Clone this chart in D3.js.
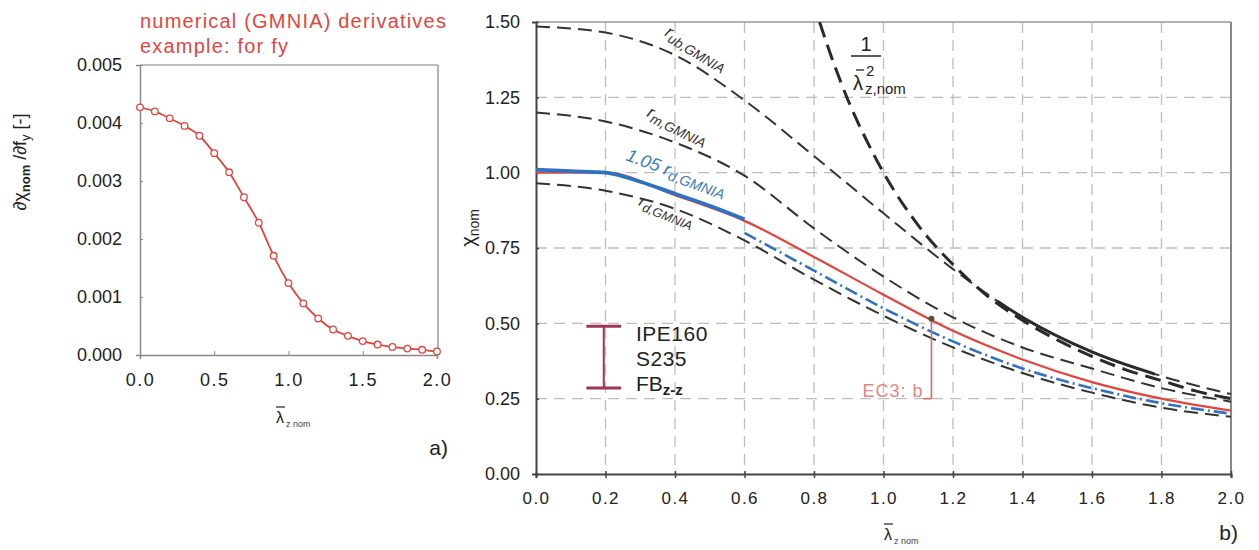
<!DOCTYPE html>
<html>
<head>
<meta charset="utf-8">
<script src="https://cdn.jsdelivr.net/npm/d3@7"></script>
<style>
  body { margin: 0; background: #fff; }
  text { font-family: "Liberation Sans", Arial, sans-serif; }
</style>
</head>
<body>
<svg id="chart" width="1259" height="550"></svg>
<script>
// ---- data ----
var lamLeft = [0, 0.1, 0.2, 0.3, 0.4, 0.5, 0.6, 0.7, 0.8, 0.9, 1.0, 1.1, 1.2, 1.3, 1.4, 1.5, 1.6, 1.7, 1.8, 1.9, 2.0];
var dChiDfy = [0.00427, 0.0042, 0.00408, 0.00395, 0.00378, 0.00348, 0.00315, 0.00272, 0.00228, 0.00171, 0.00124,
               0.00089, 0.00063, 0.00044, 0.00033, 0.00024, 0.00018, 0.00014, 0.00011, 0.00009, 0.00006];

var lam = [0, 0.2, 0.4, 0.6, 0.8, 1.0, 1.2, 1.4, 1.6, 1.8, 2.0];
var rUb = [1.485, 1.465, 1.39, 1.24, 1.055, 0.865, 0.68, 0.52, 0.405, 0.325, 0.265];
var rM  = [1.20, 1.17, 1.10, 0.99, 0.815, 0.655, 0.52, 0.42, 0.35, 0.285, 0.24];
var rD  = [0.965, 0.94, 0.88, 0.775, 0.645, 0.525, 0.42, 0.335, 0.27, 0.22, 0.19];
var ec3b = [1.0, 1.0, 0.925, 0.84, 0.72, 0.595, 0.475, 0.38, 0.305, 0.25, 0.21];

var lamBlue = [0, 0.1, 0.2, 0.3, 0.4, 0.5, 0.6];
var blueSolid = [1.01, 1.005, 1.0, 0.97, 0.93, 0.89, 0.845];
var lamBlueDD = [0.6, 0.8, 1.0, 1.2, 1.4, 1.6, 1.8, 2.0];
var blueDD = [0.80, 0.675, 0.55, 0.44, 0.35, 0.285, 0.235, 0.20];

var lamEuler = [0.816, 0.85, 0.9, 0.95, 1.0, 1.1, 1.2, 1.3, 1.4, 1.5, 1.6, 1.7, 1.8, 1.9, 2.0];
var euler = [1.50, 1.385, 1.235, 1.11, 1.0, 0.825, 0.695, 0.59, 0.51, 0.445, 0.39, 0.345, 0.31, 0.275, 0.25];

var ec3Point = { lam: 1.138, chi: 0.515 };

var xTicksLeft = [0, 0.5, 1.0, 1.5, 2.0];
var yTicksLeft = [0, 0.001, 0.002, 0.003, 0.004, 0.005];
var xTicksRight = [0, 0.2, 0.4, 0.6, 0.8, 1.0, 1.2, 1.4, 1.6, 1.8, 2.0];
var yTicksRight = [0, 0.25, 0.5, 0.75, 1.0, 1.25, 1.5];

var svg = d3.select('#chart');
var RED = '#e2453f', BLUE = '#2f72c4', DARK = '#333';

function pts(xs, ys) { return xs.map(function(x, i) { return [x, ys[i]]; }); }

// ================= left panel =================
var xL = d3.scaleLinear().domain([0, 2]).range([140, 437]);
var yL = d3.scaleLinear().domain([0, 0.005]).range([355, 65]);

var left = svg.append('g');

// frame
left.append('line').attr('x1', 140).attr('x2', 438).attr('y1', 65).attr('y2', 65).attr('stroke', '#aaa').attr('stroke-width', 1.5);
left.append('line').attr('x1', 438).attr('x2', 438).attr('y1', 65).attr('y2', 355).attr('stroke', '#999').attr('stroke-width', 1.5);

left.append('g').attr('transform', 'translate(0,355)')
  .call(d3.axisBottom(xL).tickValues(xTicksLeft).tickFormat(d3.format('.1f')).tickSize(4).tickPadding(14))
  .call(function(g) {
    g.select('.domain').attr('stroke', '#888').attr('stroke-width', 1.5);
    g.selectAll('.tick line').attr('stroke', '#888').attr('y2', -4);
    g.selectAll('.tick text').attr('font-size', 18).attr('fill', '#222').attr('letter-spacing', 1.5);
  });

left.append('g').attr('transform', 'translate(140,0)')
  .call(d3.axisLeft(yL).tickValues(yTicksLeft).tickFormat(d3.format('.3f')).tickSize(4).tickPadding(14))
  .call(function(g) {
    g.select('.domain').attr('stroke', '#888').attr('stroke-width', 1.5);
    g.selectAll('.tick line').attr('stroke', '#888').attr('x2', 3);
    g.selectAll('.tick text').attr('font-size', 18).attr('fill', '#222');
  });

var leftLine = d3.line().x(function(d) { return xL(d[0]); }).y(function(d) { return yL(d[1]); }).curve(d3.curveMonotoneX);
left.append('path').datum(pts(lamLeft, dChiDfy))
  .attr('d', leftLine).attr('fill', 'none').attr('stroke', RED).attr('stroke-width', 1.8);
left.selectAll('circle.mk').data(pts(lamLeft, dChiDfy)).enter().append('circle')
  .attr('class', 'mk')
  .attr('cx', function(d) { return xL(d[0]); })
  .attr('cy', function(d) { return yL(d[1]); })
  .attr('r', 3.3).attr('fill', '#fff').attr('stroke', RED).attr('stroke-width', 1.3);

// titles
left.append('text').attr('x', 140).attr('y', 28).attr('font-size', 20).attr('letter-spacing', 1.2).attr('fill', RED).text('numerical (GMNIA) derivatives');
left.append('text').attr('x', 140).attr('y', 53).attr('font-size', 20).attr('letter-spacing', 1.2).attr('fill', RED).text('example: for fy');

// y label
var yl = left.append('text').attr('transform', 'translate(26,162) rotate(-90)').attr('text-anchor', 'middle')
  .attr('font-size', 18).attr('fill', '#222');
yl.append('tspan').text('\u2202\u03c7');
yl.append('tspan').attr('font-size', 13).attr('dy', 4).attr('font-weight', 'bold').text('nom');
yl.append('tspan').attr('dy', -4).text(' /\u2202f');
yl.append('tspan').attr('font-size', 13).attr('dy', 4).text('y');
yl.append('tspan').attr('dy', -4).text(' [-]');

// x label
left.append('text').attr('x', 276).attr('y', 423).attr('font-size', 16).attr('fill', '#222').text('\u03bb');
left.append('line').attr('x1', 276).attr('x2', 285).attr('y1', 407).attr('y2', 407).attr('stroke', '#222').attr('stroke-width', 1.2);
left.append('text').attr('x', 286).attr('y', 427).attr('font-size', 9).attr('fill', '#444').text('z nom');

left.append('text').attr('x', 448).attr('y', 455).attr('text-anchor', 'end').attr('font-size', 21).attr('fill', '#222').text('a)');

// ================= right panel =================
var xR = d3.scaleLinear().domain([0, 2]).range([536, 1231]);
var yR = d3.scaleLinear().domain([0, 1.5]).range([474, 22]);

var right = svg.append('g');

// grid
right.selectAll('line.vg').data(xTicksRight.slice(1, -1)).enter().append('line')
  .attr('x1', function(d) { return xR(d); }).attr('x2', function(d) { return xR(d); })
  .attr('y1', yR(1.5)).attr('y2', yR(0))
  .attr('stroke', '#bdbdbd').attr('stroke-width', 1.3).attr('stroke-dasharray', '11,7');
right.selectAll('line.hg').data(yTicksRight.slice(1, -1)).enter().append('line')
  .attr('x1', xR(0)).attr('x2', xR(2))
  .attr('y1', function(d) { return yR(d); }).attr('y2', function(d) { return yR(d); })
  .attr('stroke', '#bdbdbd').attr('stroke-width', 1.3).attr('stroke-dasharray', '11,7');

// frame
right.append('line').attr('x1', xR(0)).attr('x2', xR(2)).attr('y1', yR(1.5)).attr('y2', yR(1.5)).attr('stroke', '#999').attr('stroke-width', 1.5);
right.append('line').attr('x1', xR(2)).attr('x2', xR(2)).attr('y1', yR(1.5)).attr('y2', yR(0)).attr('stroke', '#888').attr('stroke-width', 2);

right.append('g').attr('transform', 'translate(0,' + yR(0) + ')')
  .call(d3.axisBottom(xR).tickValues(xTicksRight).tickFormat(d3.format('.1f')).tickSize(4).tickPadding(14))
  .call(function(g) {
    g.select('.domain').attr('stroke', '#444').attr('stroke-width', 2);
    g.selectAll('.tick line').attr('stroke', '#444').attr('y1', -3).attr('stroke-width', 1.5);
    g.selectAll('.tick text').attr('font-size', 17).attr('fill', '#222').attr('letter-spacing', 1.5);
  });

right.append('g').attr('transform', 'translate(' + xR(0) + ',0)')
  .call(d3.axisLeft(yR).tickValues(yTicksRight).tickFormat(d3.format('.2f')).tickSize(4).tickPadding(12))
  .call(function(g) {
    g.select('.domain').attr('stroke', '#444').attr('stroke-width', 2);
    g.selectAll('.tick line').attr('stroke', '#444').attr('x2', 3).attr('stroke-width', 1.5);
    g.selectAll('.tick text').attr('font-size', 18).attr('fill', '#222');
  });

var line = d3.line().x(function(d) { return xR(d[0]); }).y(function(d) { return yR(d[1]); }).curve(d3.curveMonotoneX);

right.append('clipPath').attr('id', 'plotclip').append('rect')
  .attr('x', xR(0)).attr('y', yR(1.5)).attr('width', xR(2) - xR(0)).attr('height', yR(0) - yR(1.5));
right.append('clipPath').attr('id', 'solidclip').append('rect')
  .attr('x', xR(1.33)).attr('y', yR(1.5)).attr('width', xR(1.78) - xR(1.33)).attr('height', yR(0) - yR(1.5));

var curves = right.append('g').attr('clip-path', 'url(#plotclip)');

function draw(xs, ys, stroke, width, dash) {
  return curves.append('path').datum(pts(xs, ys)).attr('d', line)
    .attr('fill', 'none').attr('stroke', stroke).attr('stroke-width', width)
    .attr('stroke-dasharray', dash || null);
}

draw(lam, rD, DARK, 2, '14,7');
draw(lamBlueDD, blueDD, BLUE, 2.6, '13,4,2,4');
draw(lam, ec3b, RED, 2.2);
draw(lamBlue, blueSolid, BLUE, 3.8);
draw(lam, rM, DARK, 2, '14,7');
draw(lam, rUb, DARK, 2, '14,7');
curves.append('path').datum(pts(lam, rUb)).attr('d', line).attr('clip-path', 'url(#solidclip)')
  .attr('fill', 'none').attr('stroke', '#2a2a2a').attr('stroke-width', 3);
draw(lamEuler, euler, '#2a2a2a', 3, '16,8');

// EC3 b marker
right.append('line')
  .attr('x1', xR(ec3Point.lam)).attr('x2', xR(ec3Point.lam))
  .attr('y1', yR(ec3Point.chi)).attr('y2', yR(0.25))
  .attr('stroke', '#d9666e').attr('stroke-width', 1.6);
right.append('line')
  .attr('x1', xR(ec3Point.lam) - 8).attr('x2', xR(ec3Point.lam))
  .attr('y1', yR(0.25)).attr('y2', yR(0.25))
  .attr('stroke', '#d9666e').attr('stroke-width', 1.6);
right.append('circle').attr('cx', xR(ec3Point.lam)).attr('cy', yR(ec3Point.chi)).attr('r', 3).attr('fill', '#553');
right.append('text').attr('x', xR(ec3Point.lam) - 8).attr('y', yR(0.25) - 2).attr('text-anchor', 'end')
  .attr('font-size', 18).attr('fill', '#e88484').attr('letter-spacing', 1).text('EC3: b');

// curve labels
function curveLabel(x, y, angle, main, sub, color, size, italic) {
  var t = right.append('text').attr('transform', 'translate(' + x + ',' + y + ') rotate(' + angle + ')')
    .attr('fill', color).attr('font-size', size);
  if (italic) t.attr('font-style', 'italic');
  t.append('tspan').text(main);
  t.append('tspan').attr('font-size', size * 0.8).attr('dy', 4).text(sub);
}
curveLabel(664, 35, 31, 'r', 'ub,GMNIA', '#333', 17, true);
curveLabel(646, 116, 26, 'r', 'm,GMNIA', '#333', 17, true);
curveLabel(625, 160, 20, '1.05 r', 'd,GMNIA', '#3a7dc2', 18, true);
curveLabel(638, 205, 22, 'r', 'd,GMNIA', '#333', 16, true);

// 1 / lambda^2 label
right.append('text').attr('x', 866).attr('y', 51).attr('text-anchor', 'middle').attr('font-size', 20).attr('fill', '#222').text('1');
right.append('line').attr('x1', 851).attr('x2', 881).attr('y1', 56).attr('y2', 56).attr('stroke', '#222').attr('stroke-width', 1.5);
right.append('text').attr('x', 853).attr('y', 90).attr('font-size', 20).attr('fill', '#222').text('\u03bb');
right.append('line').attr('x1', 856).attr('x2', 864).attr('y1', 70).attr('y2', 70).attr('stroke', '#222').attr('stroke-width', 1.3);
right.append('text').attr('x', 866).attr('y', 76).attr('font-size', 15).attr('fill', '#222').text('2');
right.append('text').attr('x', 865).attr('y', 94).attr('font-size', 15).attr('fill', '#222').text('z,nom');

// section legend (I-beam)
var ib = right.append('g').attr('stroke', '#9e3552').attr('stroke-width', 3);
ib.append('line').attr('x1', xR(0.145)).attr('x2', xR(0.245)).attr('y1', yR(0.49)).attr('y2', yR(0.49));
ib.append('line').attr('x1', xR(0.145)).attr('x2', xR(0.245)).attr('y1', yR(0.285)).attr('y2', yR(0.285));
ib.append('line').attr('x1', xR(0.195)).attr('x2', xR(0.195)).attr('y1', yR(0.49)).attr('y2', yR(0.285)).attr('stroke-width', 2);
var legendLines = ['IPE160', 'S235'];
right.selectAll('text.sec').data(legendLines).enter().append('text').attr('class', 'sec')
  .attr('x', 636).attr('y', function(d, i) { return 341 + i * 25; })
  .attr('font-size', 21).attr('letter-spacing', 0.5).attr('fill', '#222').text(function(d) { return d; });
var fb = right.append('text').attr('x', 636).attr('y', 391).attr('font-size', 21).attr('fill', '#222');
fb.append('tspan').text('FB');
fb.append('tspan').attr('font-size', 15).attr('dy', 4).attr('font-weight', 'bold').text('z-z');

// axis titles
var yt = right.append('text').attr('transform', 'translate(475,228) rotate(-90)').attr('text-anchor', 'middle')
  .attr('font-size', 20).attr('fill', '#222');
yt.append('tspan').text('\u03c7');
yt.append('tspan').attr('font-size', 14).attr('dy', 4).text('nom');

right.append('text').attr('x', 884).attr('y', 540).attr('font-size', 16).attr('fill', '#222').text('\u03bb');
right.append('line').attr('x1', 884).attr('x2', 893).attr('y1', 524).attr('y2', 524).attr('stroke', '#222').attr('stroke-width', 1.2);
right.append('text').attr('x', 894).attr('y', 544).attr('font-size', 9).attr('fill', '#444').text('z nom');

right.append('text').attr('x', 1238).attr('y', 540).attr('text-anchor', 'end').attr('font-size', 21).attr('fill', '#222').text('b)');
</script>
</body>
</html>
